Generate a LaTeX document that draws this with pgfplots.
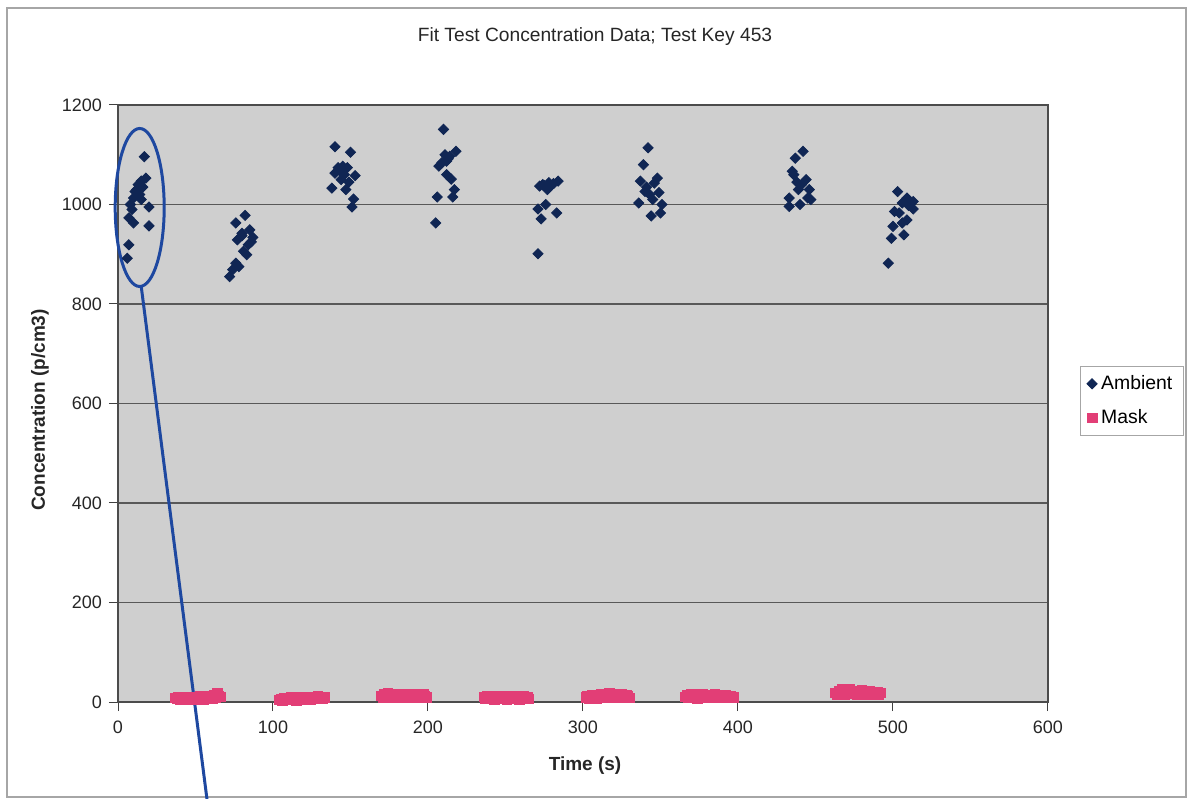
\documentclass[border=0pt]{standalone}
\usepackage{fontspec}
\setmainfont{Liberation Sans}
\usepackage{pgfplots}
\pgfplotsset{compat=1.18}
\definecolor{ambient}{RGB}{16,38,84}
\definecolor{mask}{RGB}{226,62,118}
\definecolor{plotbg}{RGB}{207,207,207}
\definecolor{annot}{RGB}{30,72,160}
\begin{document}
\begin{tikzpicture}
\useasboundingbox (-59bp,-48.5bp) rectangle (535bp,351bp);
\draw[gray!70, line width=0.6bp] (-55.5bp,-47.5bp) rectangle (534bp,347bp);
\begin{axis}[
  at={(0,0)}, anchor=south west,
  scale only axis,
  width=465bp, height=298.5bp,
  xmin=0, xmax=600, ymin=0, ymax=1200,
  xtick={0,100,...,600}, ytick={0,200,...,1200},
  xtick pos=left, ytick pos=left,
  tick align=outside,
  major tick length=4.5bp,
  tick style={gray!50!black, line width=0.5bp},
  ymajorgrids,
  grid style={gray!70!black, line width=0.6bp},
  axis line style={gray!60!black, line width=0.6bp},
  axis background/.style={fill=plotbg},
  /pgf/number format/assume math mode=true,
  /pgf/number format/1000 sep={},
  ticklabel style={font=\fontsize{9bp}{10bp}\selectfont, text=black!85},
  xticklabel style={yshift=-1.5bp},
  clip=false,
  legend style={at={(1.034,0.563)}, anchor=north west, draw=gray!70,
    font=\fontsize{9.7bp}{11bp}\selectfont, cells={anchor=west},
    row sep=4.5bp, inner sep=2.5bp, inner xsep=3.5bp},
  legend image code/.code={\draw[#1] plot coordinates {(0.25cm,0cm)};},
]
\addplot[only marks, mark=square*, mark size=1.8bp, draw=ambient, fill=ambient,
  mark options={draw=ambient, fill=ambient, rotate=45}] coordinates {
(17,1096) (18,1053) (15,1047) (13,1040) (11,1026) (14,1020) (10,1013) (15,1010)
(8,1000) (20,995) (7,973) (10,963) (20,957) (7,919) (6,892) (12,1030) (16,1035) (9,990)
(82,978) (76,963) (85,949) (80,942) (87,934) (77,929) (84,919) (81,906) (83,899)
(76,882) (78,875) (74,869) (72,855) (80,937) (86,925)
(140,1116) (150,1105) (142,1074) (145,1077) (148,1074) (140,1063) (153,1058) (144,1050)
(138,1033) (147,1030) (152,1011) (151,995) (146,1060) (143,1068) (149,1045)
(210,1151) (218,1107) (211,1100) (214,1097) (212,1087) (207,1077) (212,1060) (215,1051)
(217,1030) (216,1015) (206,1015) (205,963) (213,1092) (209,1084)
(274,1040) (279,1037) (284,1047) (277,1030) (272,1037) (276,1000) (271,991) (283,983)
(273,971) (271,901) (281,1042) (278,1044) (275,1038)
(342,1114) (339,1080) (348,1053) (337,1047) (346,1043) (340,1026) (349,1024) (343,1020)
(345,1010) (336,1003) (351,1000) (350,983) (344,977) (341,1035)
(442,1107) (437,1093) (435,1067) (436,1060) (444,1050) (441,1040) (446,1030) (439,1030)
(445,1013) (433,1013) (440,1000) (433,996) (447,1010) (438,1045)
(503,1026) (509,1013) (513,1006) (506,1003) (513,991) (501,986) (509,969) (506,963)
(500,956) (507,939) (499,932) (497,882) (504,983) (510,998)
};
\addlegendentry{Ambient}
\addplot[only marks, mark=square*, mark size=2.4bp, draw=mask, fill=mask,
  mark options={draw=mask, fill=mask}] coordinates {
(37,8) (38,6) (39,10) (40,5) (41,9) (42,7) (43,4) (44,8) (45,6) (46,10) (47,5) (48,7)
(49,9) (50,4) (51,8) (52,6) (53,11) (54,7) (55,5) (56,9) (57,6) (58,10) (59,8) (60,12)
(61,7) (62,14) (63,9) (64,18) (65,12) (66,10)
(104,4) (105,6) (106,3) (107,7) (108,5) (109,8) (110,4) (111,6) (112,9) (113,5) (114,7)
(115,3) (116,8) (117,6) (118,10) (119,5) (120,7) (121,9) (122,6) (123,8) (124,5) (125,10)
(126,7) (127,9) (128,6) (129,11) (130,8) (131,10) (132,7) (133,9)
(170,12) (171,9) (172,15) (173,10) (174,18) (175,13) (176,9) (177,14) (178,11) (179,16)
(180,10) (181,13) (182,8) (183,15) (184,11) (185,9) (186,14) (187,12) (188,16) (189,10)
(190,13) (191,9) (192,15) (193,11) (194,8) (195,13) (196,10) (197,16) (198,12) (199,9)
(236,10) (237,7) (238,12) (239,9) (240,6) (241,11) (242,8) (243,5) (244,10) (245,7)
(246,12) (247,9) (248,6) (249,10) (250,8) (251,5) (252,11) (253,7) (254,9) (255,6)
(256,12) (257,8) (258,10) (259,5) (260,9) (261,7) (262,11) (263,8) (264,10) (265,6)
(302,9) (303,12) (304,7) (305,10) (306,14) (307,8) (308,11) (309,6) (310,13) (311,9)
(312,16) (313,11) (314,8) (315,14) (316,10) (317,18) (318,12) (319,9) (320,15) (321,11)
(322,8) (323,13) (324,10) (325,16) (326,12) (327,9) (328,14) (329,11) (330,8)
(366,10) (367,13) (368,8) (369,12) (370,16) (371,9) (372,14) (373,11) (374,7) (375,13)
(376,10) (377,15) (378,12) (379,8) (380,14) (381,11) (382,9) (383,13) (384,10) (385,16)
(386,12) (387,8) (388,14) (389,10) (390,12) (391,9) (392,13) (393,11) (394,8) (395,12)
(396,10) (397,9)
(463,18) (464,14) (465,22) (466,17) (467,25) (468,19) (469,15) (470,23) (471,18) (472,26)
(473,20) (474,16) (475,22) (476,19) (477,14) (478,21) (479,17) (480,24) (481,19) (482,15)
(483,20) (484,17) (485,22) (486,18) (487,14) (488,20) (489,16) (490,19) (491,15) (492,18)
};
\addlegendentry{Mask}
% annotation
\draw[annot, line width=1.5bp] (axis cs:14,994) ellipse [x radius=12.25bp, y radius=39.5bp];
\draw[annot, line width=1.5bp] (axis cs:15,835) -- (axis cs:57.4,-195);
\end{axis}
\node[font=\fontsize{9.6bp}{11bp}\selectfont, text=black!85] at (238.5bp,332.5bp) {Fit Test Concentration Data; Test Key 453};
\node[font=\bfseries\fontsize{9.5bp}{11bp}\selectfont, text=black!85] at (233.5bp,-32bp) {Time (s)};
\node[font=\bfseries\fontsize{9.5bp}{11bp}\selectfont, text=black!85, rotate=90] at (-39bp,146bp) {Concentration (p/cm3)};
\end{tikzpicture}
\end{document}
